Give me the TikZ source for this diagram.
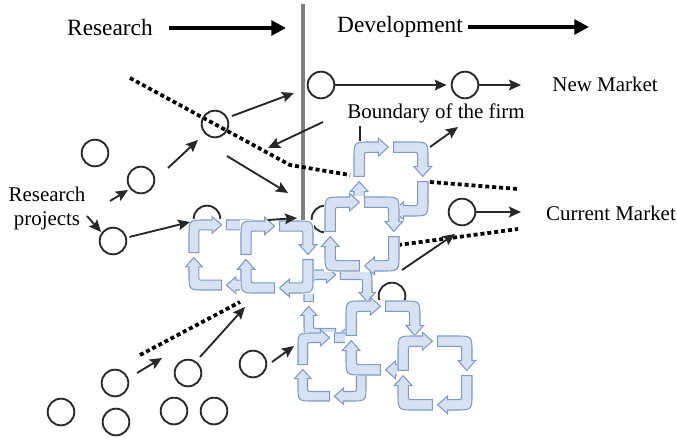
\documentclass[tikz,border=0pt]{standalone}
\usepackage{fontspec}
\setmainfont{Liberation Serif}
\usetikzlibrary{arrows.meta}

\definecolor{loopfill}{RGB}{214,226,241}
\definecolor{loopline}{RGB}{128,154,194}
\definecolor{ink}{RGB}{40,40,40}

\tikzset{
  proj/.style={circle,draw=ink,line width=1.4pt,minimum size=20pt,inner sep=0pt},
  arr/.style={-{Stealth[length=9pt,width=8pt,inset=1.5pt]},draw=ink,line width=1.4pt},
  headarr/.style={-{Triangle[length=11pt,width=11pt]},line width=3pt},
  bound/.style={line width=2.8pt,dash pattern=on 3pt off 2.2pt},
  divider/.style={draw=black!50,line width=3pt},
  piece/.style={fill=loopfill,draw=loopline,line width=0.8pt},
  big/.style={font=\fontsize{17.5}{20}\selectfont},
  lbl/.style={font=\fontsize{15.7}{18}\selectfont,align=center},
}

\begin{document}
\begin{tikzpicture}[x=0.75pt,y=-0.75pt]
\useasboundingbox (0,0) rectangle (677,443);

\node[big] (rs) at (110,28) {Research};
\node[big] (dev) at (400,27) {Development};
\coordinate (rsend) at (286,28);
\coordinate (devend) at (589,27);
\draw[headarr,shorten <=9pt] (rs.east) -- (rsend);
\draw[headarr] (dev.east) -- (devend);

\coordinate (ltop) at (303,4);
\coordinate (lbot) at (303,222);
\draw[divider] (ltop) -- (lbot);

% boundary of the firm
\draw[bound] (130,78) -- (290,165) -- (350,175);
\draw[bound] (430,182) -- (518,189);
\draw[bound] (140,355) -- (240,302);
\draw[bound] (398,245) -- (518,229);

% projects behind the loops
\node[proj] (c8) at (207,219) {};
\node[proj] (c9) at (325,219) {};
\node[proj] (c10) at (392,296) {};

% development loops
\foreach \cx/\cy/\sz in {338/304/34, 224/255/35, 277/257/36, 391/179/37, 362/234/37, 332/367/34, 383/338/37, 435/373/37}{
  \begin{scope}[shift={(\cx,\cy)},scale=\sz]
    \fill[white] (-1.03,-1.03) rectangle (1.03,1.03);
    \foreach \ang in {0,90,180,270}
      \draw[piece,rotate=\ang] (-1,-0.07) -- (-1,-0.55) .. controls (-1,-1) .. (-0.55,-1) -- (-0.34,-1) -- (-0.34,-1.1) -- (-0.07,-0.86) -- (-0.34,-0.62) -- (-0.34,-0.72) -- (-0.6,-0.72) .. controls (-0.72,-0.72) .. (-0.72,-0.6) -- (-0.72,-0.07) -- cycle;
  \end{scope}
}

\node[proj] (c1) at (321,85) {};
\node[proj] (c2) at (465,85) {};
\node[proj] (c3) at (215,124) {};
\node[proj] (c4) at (95,153) {};
\node[proj] (c5) at (141,180) {};
\node[proj] (c6) at (113,241) {};
\node[proj] (c7) at (462,212) {};
\node[proj] (b1) at (115,383) {};
\node[proj] (b2) at (188,373) {};
\node[proj] (b3) at (253,364) {};
\node[proj] (b4) at (61,412) {};
\node[proj] (b5) at (116,422) {};
\node[proj] (b6) at (174,411) {};
\node[proj] (b7) at (214,411) {};

\node[lbl] (nm) at (605,84) {New Market};
\node[lbl] (cm) at (611,213) {Current Market};
\node[lbl] (bnd) at (436,113) {Boundary of the firm};
\node[lbl] (rp) at (47,208) {Research\\projects};

\coordinate (nmtip) at (521,85);
\coordinate (cmtip) at (521,212);
\draw[arr,shorten >=3pt] (c1) -- (c2);
\draw[arr] (c2) -- (nmtip);
\draw[arr] (c7) -- (cmtip);

\coordinate (u1) at (232,116);
\coordinate (u2) at (294,93);
\draw[arr] (u1) -- (u2);
\coordinate (u3) at (168,168);
\coordinate (u4) at (198,140);
\draw[arr] (u3) -- (u4);
\coordinate (u5) at (227,156);
\coordinate (u6) at (288,193);
\draw[arr] (u5) -- (u6);

\coordinate (bs) at (323,122);
\coordinate (bp) at (268,148);
\draw[arr] (bs) -- (bp);
\coordinate (tk1) at (360,126);
\coordinate (tk2) at (360,141);
\draw[ink,line width=1.4pt] (tk1) -- (tk2);
\coordinate (d1) at (430,147);
\coordinate (d2) at (458,127);
\draw[arr] (d1) -- (d2);

\coordinate (a1) at (190,222);
\draw[arr,shorten <=2pt] (c6) -- (a1);
\coordinate (a2) at (268,220);
\coordinate (a3) at (297,218);
\draw[arr] (a2) -- (a3);
\coordinate (m1) at (402,270);
\coordinate (m2) at (455,234);
\draw[arr] (m1) -- (m2);

\coordinate (r1) at (110,201);
\coordinate (r2) at (128,190);
\draw[arr] (r1) -- (r2);
\coordinate (r3) at (87,216);
\coordinate (r4) at (101,232);
\draw[arr] (r3) -- (r4);

\coordinate (l1) at (137,373);
\coordinate (l2) at (162,358);
\draw[arr] (l1) -- (l2);
\coordinate (l3) at (200,357);
\coordinate (l4) at (245,307);
\draw[arr] (l3) -- (l4);
\coordinate (l5) at (272,362);
\coordinate (l6) at (294,346);
\draw[arr] (l5) -- (l6);
\end{tikzpicture}
\end{document}
